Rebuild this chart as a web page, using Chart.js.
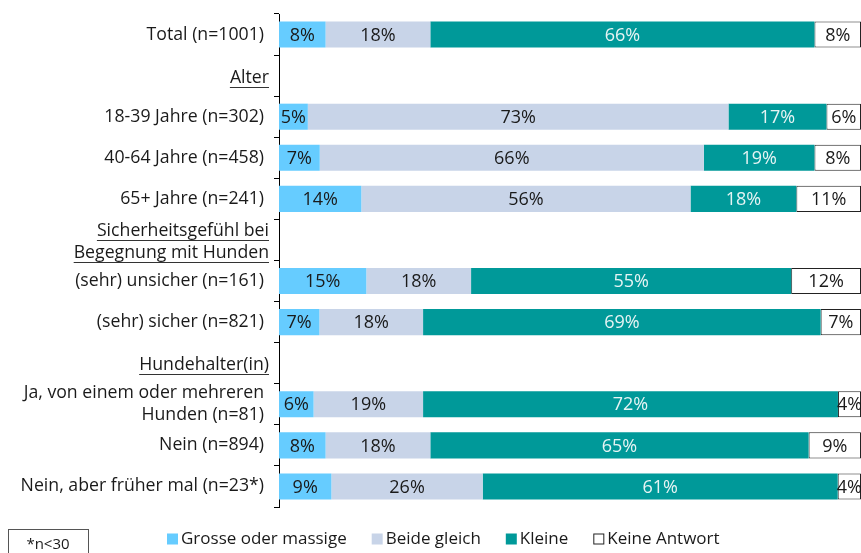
<!DOCTYPE html>
<html><head><meta charset="utf-8">
<script src="https://cdn.jsdelivr.net/npm/chart.js@4"></script>
<style>html,body{margin:0;padding:0;background:#fff;overflow:hidden}</style>
</head><body>
<canvas id="c" width="861" height="553"></canvas>
<script>
// ---- data ----
const categories = [
  ['Total (n=1001)'],
  ['Alter'],
  ['18-39 Jahre (n=302)'],
  ['40-64 Jahre (n=458)'],
  ['65+ Jahre (n=241)'],
  ['Sicherheitsgefühl bei', 'Begegnung mit Hunden'],
  ['(sehr) unsicher (n=161)'],
  ['(sehr) sicher (n=821)'],
  ['Hundehalter(in)'],
  ['Ja, von einem oder mehreren', 'Hunden (n=81)'],
  ['Nein (n=894)'],
  ['Nein, aber früher mal (n=23*)']
];
const headerRows = [false, true, false, false, false, true, false, false, true, false, false, false];
const seriesNames = ['Grosse oder massige', 'Beide gleich', 'Kleine', 'Keine Antwort'];
const grosse = [8, null, 5, 7, 14, null, 15, 7, null, 6, 8, 9];
const beide  = [18, null, 73, 66, 56, null, 18, 18, null, 19, 18, 26];
const kleine = [66, null, 17, 19, 18, null, 55, 69, null, 72, 65, 61];
const keine  = [8, null, 6, 8, 11, null, 12, 7, null, 4, 9, 4];
const footnote = '*n<30';

// ---- styling ----
const FONT = '"Open Sans", "Noto Sans", sans-serif';
const fills = ['#66CCFF', '#C8D4E8', '#009999', '#FFFFFF'];
const borders = ['#66CCFF', '#C8D4E8', '#009999', '#222222'];
const labelColors = ['#1a1a1a', '#1a1a1a', '#E6F4F4', '#1a1a1a'];
const series = [grosse, beide, kleine, keine];

// row totals (displayed percentages are rounded; bars are scaled to fill 100%)
const rowSums = categories.map((_, i) => series.reduce((s, arr) => s + (arr[i] || 0), 0));

const datasets = series.map((arr, k) => ({
  label: seriesNames[k],
  data: arr.map((v, i) => v == null ? null : v / rowSums[i] * 100),
  raw: arr,
  backgroundColor: fills[k],
  borderColor: borders[k],
  borderWidth: k === 3 ? 1 : 0,
  borderSkipped: false,
  barPercentage: 0.635,
  categoryPercentage: 1.0
}));

const AXIS_X = 279;

const labelsPlugin = {
  id: 'customLabels',
  afterDatasetsDraw(chart) {
    const ctx = chart.ctx;
    const area = chart.chartArea;
    ctx.save();
    ctx.beginPath();
    ctx.rect(area.left + 1, area.top, area.right - area.left, area.bottom - area.top);
    ctx.clip();
    ctx.font = '18px ' + FONT;
    ctx.textAlign = 'center';
    ctx.textBaseline = 'middle';
    chart.data.datasets.forEach((ds, k) => {
      const meta = chart.getDatasetMeta(k);
      meta.data.forEach((el, i) => {
        const v = ds.raw[i];
        if (v == null) return;
        const cx = (el.x + el.base) / 2;
        ctx.fillStyle = labelColors[k];
        ctx.fillText(v + '%', cx, el.y + 1);
      });
    });
    ctx.restore();
  },
  afterDraw(chart) {
    const ctx = chart.ctx;
    const yScale = chart.scales.y;
    ctx.save();
    // category labels
    ctx.font = '17.7px ' + FONT;
    ctx.fillStyle = '#1a1a1a';
    ctx.textAlign = 'right';
    ctx.textBaseline = 'middle';
    const lineH = 22;
    categories.forEach((lines, i) => {
      const yc = yScale.getPixelForValue(i);
      const isHeader = headerRows[i];
      const xr = isHeader ? 269 : 264;
      const y0 = yc - (lines.length - 1) * lineH / 2 + (isHeader ? 2 : 0);
      lines.forEach((t, j) => {
        const y = y0 + j * lineH;
        ctx.fillText(t, xr, y);
        if (isHeader) {
          const w = ctx.measureText(t).width;
          ctx.strokeStyle = '#333';
          ctx.lineWidth = 1;
          ctx.beginPath();
          ctx.moveTo(xr - w, Math.round(y + 9) + 0.5);
          ctx.lineTo(xr, Math.round(y + 9) + 0.5);
          ctx.stroke();
        }
      });
    });
    // legend
    ctx.font = '17px ' + FONT;
    ctx.textAlign = 'left';
    ctx.textBaseline = 'middle';
    let x = 167;
    const ly = 539;
    seriesNames.forEach((name, k) => {
      ctx.fillStyle = fills[k];
      ctx.fillRect(x, ly - 5.5, 11, 11);
      if (k === 3) {
        ctx.strokeStyle = '#222';
        ctx.lineWidth = 1;
        ctx.strokeRect(x + 0.5, ly - 5, 10, 10);
      }
      ctx.fillStyle = '#1a1a1a';
      ctx.fillText(name, x + 14, ly);
      x += 14 + ctx.measureText(name).width + 25;
    });
    // footnote box
    ctx.strokeStyle = '#555';
    ctx.lineWidth = 1;
    ctx.strokeRect(8.5, 529.5, 80, 40);
    ctx.font = '15px ' + FONT;
    ctx.fillStyle = '#1a1a1a';
    ctx.textAlign = 'center';
    ctx.fillText(footnote, 48, 545);
    ctx.restore();
  }
};

new Chart(document.getElementById('c'), {
  type: 'bar',
  data: { labels: categories.map(l => l.join(' ')), datasets },
  options: {
    indexAxis: 'y',
    responsive: false,
    animation: false,
    devicePixelRatio: 1,
    layout: { padding: { top: 14, bottom: 46, right: 0, left: 0 } },
    plugins: { legend: { display: false }, tooltip: { enabled: false } },
    scales: {
      x: { stacked: true, display: false, min: 0, max: 100 },
      y: {
        stacked: true,
        afterFit: s => { s.width = AXIS_X; },
        ticks: { display: false },
        grid: { display: true, drawOnChartArea: false, drawTicks: true, tickLength: 5, color: '#000', offset: true },
        border: { display: true, color: '#000', width: 1 }
      }
    }
  },
  plugins: [labelsPlugin]
});
</script>
</body></html>
